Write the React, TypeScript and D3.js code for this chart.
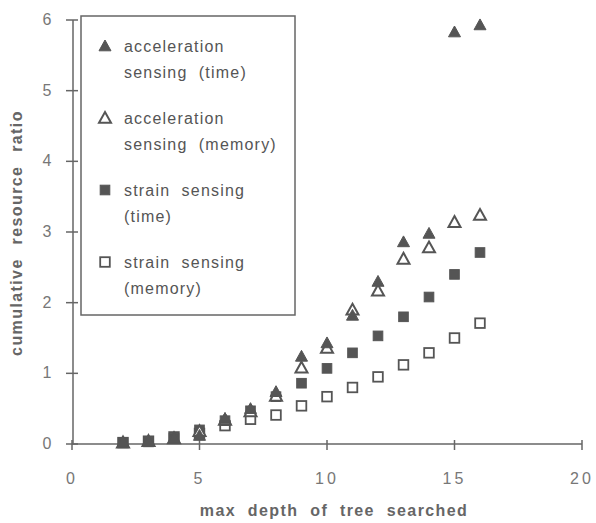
import React from "react";
import * as d3 from "d3";

// depth values searched
const depths = [2, 3, 4, 5, 6, 7, 8, 9, 10, 11, 12, 13, 14, 15, 16];

const accelTime = [0.02, 0.04, 0.08, 0.12, 0.36, 0.5, 0.74, 1.24, 1.43, 1.82, 2.3, 2.86, 2.98, 5.83, 5.93];
const accelMemory = [0.02, 0.04, 0.08, 0.18, 0.34, 0.46, 0.68, 1.08, 1.36, 1.9, 2.17, 2.62, 2.78, 3.14, 3.24];
const strainTime = [0.02, 0.03, 0.08, 0.2, 0.33, 0.47, 0.67, 0.86, 1.07, 1.29, 1.53, 1.8, 2.08, 2.4, 2.71];
const strainMemory = [0.02, 0.04, 0.1, 0.15, 0.26, 0.35, 0.41, 0.54, 0.67, 0.8, 0.95, 1.12, 1.29, 1.5, 1.71];

const xTicks = [0, 5, 10, 15, 20];
const yTicks = [0, 1, 2, 3, 4, 5, 6];

const legendLines = [
  ["acceleration", "sensing  (time)"],
  ["acceleration", "sensing  (memory)"],
  ["strain  sensing", "(time)"],
  ["strain  sensing", "(memory)"],
];

const ink = "#555";
const font = "'Liberation Sans', Arial, sans-serif";

const Marker = ({ kind, x, y }) => {
  const s = 6;
  if (kind === "triFill" || kind === "triOpen") {
    const filled = kind === "triFill";
    const pts = `${x},${y - s} ${x + s},${y + s * 0.8} ${x - s},${y + s * 0.8}`;
    return (
      <polygon
        points={pts}
        fill={filled ? ink : "white"}
        stroke={ink}
        strokeWidth={filled ? 1 : 2}
        strokeLinejoin="miter"
      />
    );
  }
  const filled = kind === "sqFill";
  const h = 4.8;
  return (
    <rect
      x={x - h}
      y={y - h}
      width={h * 2}
      height={h * 2}
      fill={filled ? ink : "white"}
      stroke={ink}
      strokeWidth={filled ? 1 : 1.8}
    />
  );
};

const App = () => {
  const x = d3.scaleLinear().domain([0, 20]).range([72, 582]);
  const y = d3.scaleLinear().domain([0, 6]).range([444, 20]);

  const series = [
    { kind: "sqOpen", values: strainMemory },
    { kind: "sqFill", values: strainTime },
    { kind: "triOpen", values: accelMemory },
    { kind: "triFill", values: accelTime },
  ];
  const legendKinds = ["triFill", "triOpen", "sqFill", "sqOpen"];

  return (
    <svg width={596} height={523} style={{ position: "absolute", left: 0, top: 0, background: "white" }} fontFamily={font}>
      {/* axes */}
      <line x1={x(0)} x2={x(20)} y1={y(0)} y2={y(0)} stroke="#666" strokeWidth={1.5} />
      <line x1={73} x2={73} y1={y(0)} y2={y(6)} stroke="#666" strokeWidth={1.5} />
      {xTicks.map((t) => (
        <g key={"x" + t}>
          <line x1={x(t)} x2={x(t)} y1={y(0) - 4} y2={y(0) + 6} stroke="#666" strokeWidth={1.5} />
          <text x={x(t)} y={484} textAnchor="middle" fontSize={16} fill="#777" letterSpacing={3}>
            {t}
          </text>
        </g>
      ))}
      {yTicks.map((t) => (
        <g key={"y" + t}>
          <line x1={66} x2={78} y1={y(t)} y2={y(t)} stroke="#666" strokeWidth={1.5} />
          <text x={47} y={y(t) + 5} textAnchor="middle" fontSize={16} fill="#777">
            {t}
          </text>
        </g>
      ))}

      {/* axis titles */}
      <text x={334} y={516} textAnchor="middle" fontSize={16} fontWeight="bold" fill="#666" letterSpacing={1.4} wordSpacing={6}>
        max depth of tree searched
      </text>
      <text
        transform={`translate(22, 233) rotate(-90)`}
        textAnchor="middle"
        fontSize={16}
        fontWeight="bold"
        fill="#666"
        letterSpacing={1.4}
        wordSpacing={8}
      >
        cumulative resource ratio
      </text>

      {/* legend */}
      <rect x={81} y={16} width={214} height={299} fill="white" stroke="#666" strokeWidth={1.5} />
      {legendLines.map((lines, i) => (
        <g key={"leg" + i}>
          <Marker kind={legendKinds[i]} x={105} y={46 + i * 72} />
          {lines.map((l, j) => (
            <text key={j} x={124} y={52 + i * 72 + j * 26} fontSize={16} fill={ink} letterSpacing={1.2} xmlSpace="preserve">
              {l}
            </text>
          ))}
        </g>
      ))}

      {/* points */}
      {series.map((s) =>
        s.values.map((v, i) => <Marker key={s.kind + i} kind={s.kind} x={x(depths[i])} y={y(v)} />)
      )}
    </svg>
  );
};

export default App;
